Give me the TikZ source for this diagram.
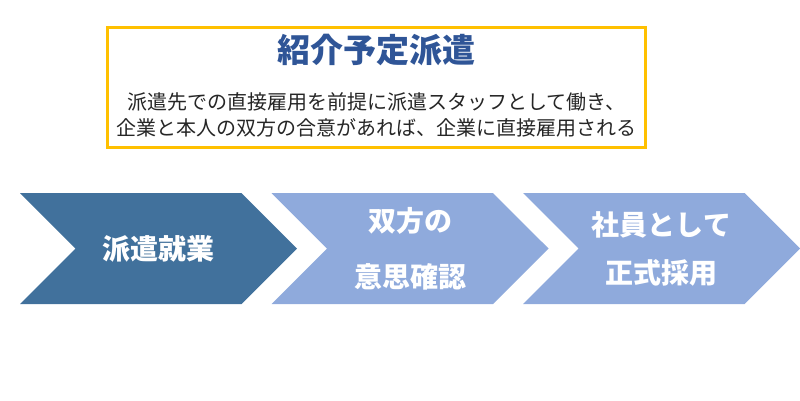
\documentclass[tikz,border=0pt]{standalone}
\usepackage{fontspec}
\setmainfont{Noto Sans CJK JP}
\usetikzlibrary{shapes.symbols, positioning}
\definecolor{stepdark}{RGB}{65,113,156}
\definecolor{steplight}{RGB}{143,170,220}
\definecolor{titleblue}{RGB}{47,85,151}
\definecolor{boxgold}{RGB}{255,192,0}
\tikzstyle{introbox} = [rectangle, draw=boxgold, line width=3pt, minimum width=538pt, minimum height=120pt, inner sep=0pt]
\tikzstyle{titletext} = [font=\fontsize{33}{39}\selectfont\bfseries, text=titleblue, inner sep=0pt]
\tikzstyle{desctext} = [font=\fontsize{20}{26}\selectfont, text=black!85, align=center, inner sep=0pt]
\tikzstyle{chevron} = [signal, signal from=west, signal to=east, signal pointer angle=90, minimum width=277pt, minimum height=111pt, inner sep=0pt, font=\fontsize{28}{34}\selectfont\bfseries, text=white, align=center]

\begin{document}
\begin{tikzpicture}[x=1pt, y=-1pt]
\useasboundingbox (0,0) rectangle (800,400);

% --- Intro Box ---
\node (intro) [introbox] at (376,87) {};
\node (title) [titletext, below=8pt of intro.north] {紹介予定派遣};
\node (desc) [desctext, above=11pt of intro.south] {派遣先での直接雇用を前提に派遣スタッフとして働き、\\企業と本人の双方の合意があれば、企業に直接雇用される};

% --- Steps ---
\node (dispatch) [chevron, fill=stepdark] at (158.5,248.5) {派遣就業};
\node (confirm) [chevron, fill=steplight] at (410,248.5) {双方の\\[22pt]意思確認};
\node (hire) [chevron, fill=steplight] at (661.5,248.5) {社員として\\[14pt]正式採用};

\end{tikzpicture}
\end{document}
